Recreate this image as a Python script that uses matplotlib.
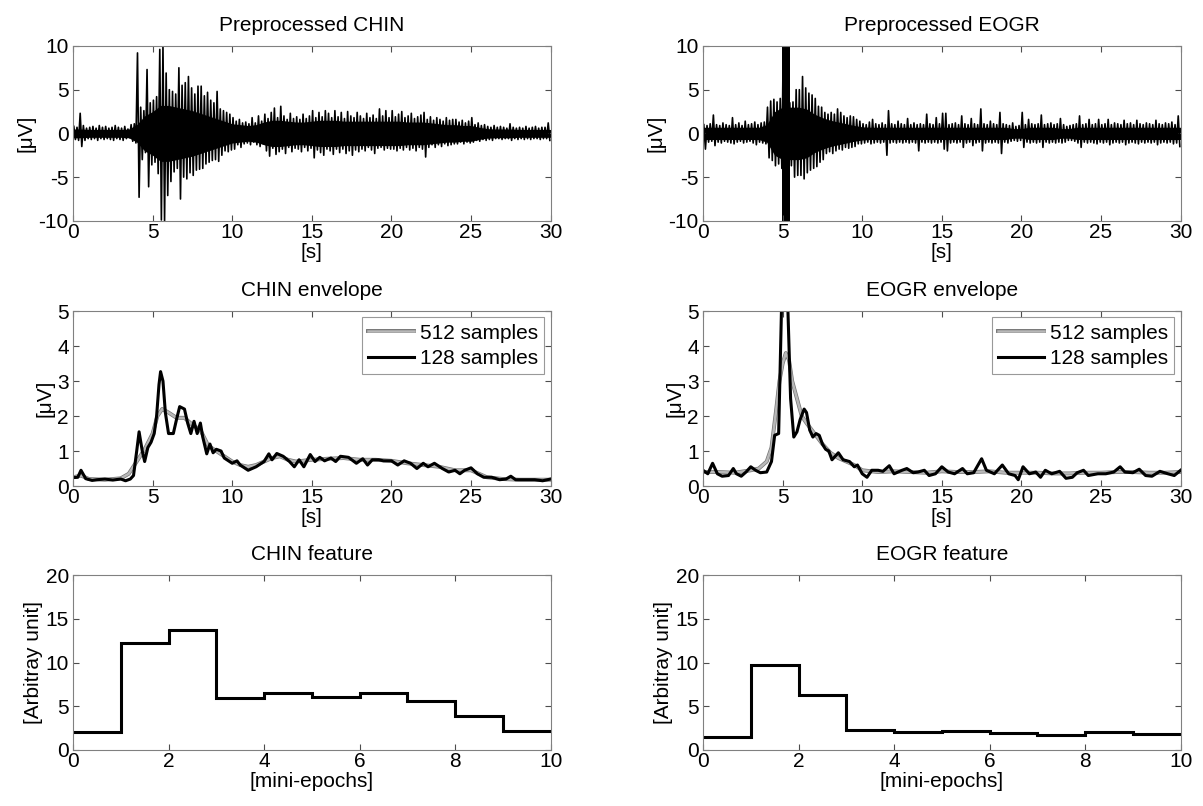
import matplotlib.pyplot as plt
import matplotlib.patheffects as pe
import numpy as np

plt.rcParams['font.family'] = ['Liberation Sans', 'DejaVu Sans']
plt.rcParams['font.size'] = 15
plt.rcParams['axes.unicode_minus'] = False

# raw signals: peak values per 0.2 s bin (upper / lower)
BIN = 0.2
CHIN_HI = [0.8, 0.7, 2.3, 0.9, 0.6, 0.7, 0.8, 0.6, 0.9, 0.7,
           0.8, 0.6, 0.7, 0.9, 0.7, 0.6, 0.8, 0.5, 1.0, 1.1,
           9.2, 3.0, 2.6, 7.3, 3.5, 3.8, 4.2, 9.6, 10.0, 6.9,
           5.0, 4.8, 4.5, 7.5, 5.5, 5.8, 6.5, 5.2, 4.5, 5.4,
           5.4, 4.3, 4.7, 3.8, 3.5, 4.8, 2.8, 2.6, 2.4, 2.2,
           1.8, 1.4, 1.6, 1.2, 1.3, 1.1, 1.8, 1.2, 2.0, 1.4,
           2.2, 1.7, 2.4, 2.9, 1.8, 3.1, 2.0, 1.6, 2.3, 1.7,
           1.9, 1.6, 2.2, 1.7, 2.0, 2.6, 1.8, 2.4, 1.9, 2.6,
           2.3, 1.8, 2.6, 1.9, 2.4, 1.7, 2.5, 2.0, 1.8, 2.4,
           2.0, 1.7, 2.3, 1.8, 2.1, 1.7, 2.8, 2.0, 2.6, 1.8,
           2.6, 1.9, 2.2, 2.5, 1.8, 2.0, 2.3, 1.7, 1.9, 2.1,
           2.4, 1.6, 1.9, 1.5, 1.8, 1.6, 1.4, 1.8, 1.5, 1.6,
           1.6, 1.3, 1.5, 1.2, 1.4, 1.8, 1.0, 1.2, 0.9, 1.0,
           0.8, 0.7, 0.9, 0.7, 0.8, 0.7, 0.6, 1.1, 0.7, 0.6,
           0.7, 0.6, 0.8, 0.6, 0.7, 0.8, 0.6, 0.7, 0.7, 1.2]
CHIN_LO = [-0.7, -0.8, -1.5, -0.8, -0.6, -0.7, -0.6, -0.8, -0.6, -0.7,
           -0.6, -0.7, -0.8, -0.6, -0.7, -0.8, -0.6, -0.5, -0.9, -1.1,
           -7.3, -3.0, -2.2, -6.1, -3.6, -3.3, -4.6, -9.9, -10.0, -7.1,
           -5.5, -4.4, -4.0, -7.5, -5.0, -5.2, -4.5, -4.8, -4.2, -4.1,
           -4.0, -3.5, -3.3, -3.1, -3.0, -3.2, -2.5, -2.0, -2.1, -1.9,
           -1.8, -1.3, -1.6, -1.2, -1.1, -1.3, -1.0, -1.3, -1.5, -1.2,
           -2.0, -2.6, -1.7, -2.4, -2.1, -1.8, -2.3, -1.6, -2.1, -1.7,
           -1.8, -2.1, -1.6, -2.0, -1.7, -2.8, -1.9, -2.2, -2.5, -1.8,
           -2.0, -2.4, -1.8, -2.2, -1.8, -2.3, -2.0, -2.5, -1.9, -2.1,
           -1.8, -2.0, -1.6, -1.9, -2.3, -1.7, -1.6, -1.9, -1.7, -1.8,
           -1.8, -2.0, -1.7, -1.9, -1.6, -1.9, -1.7, -2.0, -1.6, -1.8,
           -2.7, -1.6, -1.3, -1.6, -1.3, -1.5, -1.2, -1.4, -1.3, -1.2,
           -1.2, -1.0, -1.2, -1.0, -1.1, -1.0, -0.8, -0.9, -0.7, -0.8,
           -0.7, -0.8, -0.6, -0.6, -0.7, -0.6, -0.6, -0.8, -0.6, -0.7,
           -0.6, -0.7, -0.6, -0.7, -0.6, -0.6, -0.7, -0.6, -0.6, -0.8]
EOGR_HI = [1.0, 0.9, 1.1, 2.1, 1.0, 0.9, 1.2, 1.0, 0.9, 1.8,
           1.0, 1.2, 0.9, 1.4, 1.0, 1.1, 1.3, 1.0, 1.2, 1.3,
           3.0, 3.7, 3.9, 3.6, 4.0, 12.0, 12.0, 3.5, 3.6, 5.0,
           5.0, 6.5, 5.2, 4.6, 4.4, 4.0, 3.1, 3.0, 2.4, 2.2,
           2.4, 2.2, 2.8, 2.4, 2.0, 1.8, 2.0, 1.9, 1.6, 1.4,
           1.1, 1.0, 1.3, 1.6, 1.1, 1.0, 1.2, 1.0, 2.6, 1.1,
           1.0, 1.4, 1.1, 1.0, 1.7, 1.0, 1.2, 1.0, 1.1, 1.0,
           2.2, 1.1, 1.0, 1.8, 1.1, 2.3, 2.3, 1.0, 1.1, 1.2,
           1.0, 2.0, 1.1, 1.0, 1.7, 1.1, 1.0, 2.8, 1.1, 1.0,
           1.4, 1.1, 1.0, 2.4, 1.1, 1.0, 0.9, 1.2, 0.8, 0.9,
           2.4, 1.0, 1.6, 1.1, 1.0, 1.1, 2.1, 1.0, 1.1, 1.2,
           1.0, 1.1, 1.7, 1.0, 0.8, 0.9, 1.0, 1.1, 2.0, 1.0,
           1.1, 1.6, 1.0, 1.1, 1.6, 1.0, 1.1, 1.6, 1.0, 1.2,
           1.1, 1.0, 1.5, 1.1, 1.2, 1.0, 1.5, 1.1, 1.0, 1.2,
           1.1, 1.0, 1.5, 1.1, 1.0, 1.2, 1.1, 1.3, 1.0, 2.0]
EOGR_LO = [-1.8, -1.0, -0.9, -1.4, -1.0, -1.1, -0.9, -1.0, -1.1, -1.2,
           -1.0, -0.9, -1.1, -1.0, -0.9, -1.1, -1.3, -1.0, -1.1, -1.2,
           -2.8, -3.1, -3.7, -3.5, -4.0, -12.0, -12.0, -3.7, -5.0, -4.8,
           -4.8, -5.2, -4.5, -4.2, -4.0, -3.8, -3.3, -3.0, -2.3, -2.1,
           -2.3, -2.0, -1.8, -1.9, -1.6, -1.7, -1.6, -1.5, -1.2, -1.2,
           -1.1, -1.0, -1.2, -1.1, -1.0, -1.1, -1.0, -2.5, -1.1, -1.0,
           -1.1, -1.0, -1.1, -1.0, -1.1, -1.0, -1.1, -2.0, -1.0, -1.1,
           -1.0, -1.1, -1.0, -1.1, -1.0, -1.8, -2.0, -1.1, -1.0, -1.1,
           -1.0, -1.6, -1.1, -1.0, -1.4, -1.1, -1.0, -2.0, -1.1, -1.0,
           -1.1, -1.0, -1.1, -2.3, -1.0, -1.1, -0.9, -0.8, -0.9, -0.8,
           -1.6, -1.0, -1.1, -1.0, -1.1, -1.0, -1.6, -1.0, -1.1, -1.0,
           -1.1, -1.0, -1.1, -1.0, -0.8, -0.8, -0.9, -1.1, -1.6, -1.0,
           -1.1, -1.0, -1.1, -1.2, -1.0, -1.1, -1.0, -1.3, -1.1, -1.0,
           -1.1, -1.0, -1.3, -1.1, -1.0, -1.1, -1.2, -1.0, -1.1, -1.0,
           -1.1, -1.0, -1.3, -1.1, -1.0, -1.1, -1.0, -1.2, -1.1, -1.5]

# dense core amplitude of the raw signals, every 0.5 s
CORE_STEP = 0.5
CHIN_CORE = [0.5, 0.5, 0.45, 0.45, 0.45, 0.45, 0.45, 0.5, 1.0, 2.0,
             2.5, 3.2, 3.2, 3.0, 2.8, 2.6, 2.3, 2.0, 1.7, 1.4,
             1.1, 1.0, 0.9, 1.0, 1.3, 1.5, 1.5, 1.4, 1.3, 1.3,
             1.4, 1.5, 1.5, 1.5, 1.4, 1.4, 1.4, 1.4, 1.4, 1.4,
             1.4, 1.4, 1.3, 1.3, 1.3, 1.2, 1.1, 1.0, 1.0, 0.9,
             0.9, 0.7, 0.55, 0.5, 0.5, 0.5, 0.45, 0.45, 0.45, 0.45, 0.45]
EOGR_CORE = [0.7, 0.7, 0.7, 0.7, 0.7, 0.7, 0.7, 0.7, 1.0, 2.5,
             3.0, 3.0, 3.0, 2.8, 2.2, 1.8, 1.5, 1.3, 1.1, 0.9,
             0.75, 0.7, 0.7, 0.7, 0.7, 0.7, 0.7, 0.7, 0.7, 0.7,
             0.7, 0.7, 0.7, 0.7, 0.7, 0.7, 0.7, 0.7, 0.7, 0.55,
             0.55, 0.7, 0.7, 0.7, 0.7, 0.55, 0.55, 0.7, 0.7, 0.7,
             0.7, 0.7, 0.7, 0.7, 0.7, 0.7, 0.7, 0.7, 0.7, 0.7, 0.7]
EOGR_CLIPPED = (4.95, 5.45)

# envelopes (time [s], value [uV])
CHIN_ENV_512 = [(0, 0.25), (0.5, 0.3), (1, 0.2), (2, 0.18), (3, 0.22), (3.5, 0.35), (4, 0.7),
                (4.5, 1.05), (5, 1.5), (5.3, 2.0), (5.6, 2.2), (6, 2.1), (6.5, 1.95), (7, 1.95),
                (7.5, 1.75), (8, 1.6), (8.5, 1.15), (9, 1.0), (9.5, 0.85), (10, 0.7), (10.5, 0.6),
                (11, 0.55), (11.5, 0.6), (12, 0.7), (12.5, 0.8), (13, 0.85), (13.5, 0.75), (14, 0.7),
                (15, 0.75), (16, 0.78), (17, 0.8), (18, 0.75), (19, 0.75), (20, 0.72), (21, 0.65),
                (22, 0.6), (23, 0.55), (24, 0.45), (25, 0.45), (25.5, 0.35), (26, 0.25), (27, 0.2),
                (28, 0.18), (29, 0.18), (30, 0.18)]
CHIN_ENV_128 = [(0, 0.24), (0.3, 0.25), (0.5, 0.45), (0.8, 0.21), (1.2, 0.16), (1.5, 0.18), (2.0, 0.2),
                (2.5, 0.17), (3.0, 0.2), (3.3, 0.15), (3.6, 0.2), (3.8, 0.3), (4.0, 1.0), (4.15, 1.55),
                (4.35, 1.0), (4.5, 0.7), (4.7, 1.1), (4.9, 1.25), (5.1, 1.5), (5.25, 2.0), (5.4, 2.9),
                (5.5, 3.27), (5.65, 3.0), (5.8, 2.1), (6.0, 1.5), (6.3, 1.5), (6.5, 1.9), (6.7, 2.27),
                (7.0, 2.2), (7.2, 1.8), (7.4, 1.5), (7.6, 1.85), (7.8, 1.5), (8.0, 1.8), (8.15, 1.4),
                (8.4, 0.92), (8.6, 1.2), (8.8, 0.95), (9.0, 1.05), (9.3, 1.0), (9.5, 0.8), (10.0, 0.65),
                (10.3, 0.72), (10.5, 0.6), (11.0, 0.45), (11.5, 0.55), (12.0, 0.7), (12.3, 0.92),
                (12.5, 0.75), (12.8, 0.93), (13.2, 0.85), (13.6, 0.7), (13.9, 0.55), (14.2, 0.75),
                (14.5, 0.55), (14.9, 0.9), (15.2, 0.7), (15.5, 0.82), (15.8, 0.72), (16.2, 0.8),
                (16.5, 0.7), (16.8, 0.85), (17.3, 0.82), (17.8, 0.65), (18.2, 0.78), (18.5, 0.6),
                (18.8, 0.75), (19.2, 0.75), (19.5, 0.72), (20.0, 0.72), (20.4, 0.6), (20.8, 0.72),
                (21.2, 0.65), (21.6, 0.5), (22.0, 0.65), (22.3, 0.55), (22.7, 0.65), (23.2, 0.5),
                (23.6, 0.4), (24.0, 0.45), (24.3, 0.35), (24.6, 0.45), (25.0, 0.52), (25.4, 0.35),
                (25.8, 0.25), (26.3, 0.25), (26.8, 0.18), (27.2, 0.2), (27.5, 0.28), (27.8, 0.18),
                (28.3, 0.18), (29.0, 0.18), (29.5, 0.15), (30.0, 0.2)]
EOGR_ENV_512 = [(0, 0.4), (1, 0.4), (2, 0.38), (3, 0.45), (3.5, 0.5), (4, 0.7), (4.3, 1.1), (4.6, 2.2),
                (4.8, 3.0), (5.0, 3.5), (5.2, 3.8), (5.4, 3.6), (5.6, 3.0), (5.9, 2.5), (6.2, 2.0),
                (6.5, 1.8), (7, 1.5), (7.5, 1.2), (8, 0.95), (8.5, 0.8), (9, 0.7), (9.5, 0.6),
                (10, 0.45), (11, 0.4), (12, 0.42), (13, 0.4), (14, 0.38), (15, 0.42), (16, 0.4),
                (17, 0.4), (18, 0.42), (19, 0.38), (20, 0.38), (21, 0.38), (22, 0.36), (23, 0.36),
                (24, 0.38), (25, 0.38), (26, 0.4), (27, 0.4), (28, 0.38), (29, 0.38), (30, 0.4)]
EOGR_ENV_128 = [(0, 0.45), (0.3, 0.35), (0.6, 0.65), (0.9, 0.35), (1.2, 0.28), (1.6, 0.3), (1.9, 0.5),
                (2.1, 0.35), (2.4, 0.28), (2.7, 0.4), (3.0, 0.55), (3.3, 0.45), (3.6, 0.38), (4.0, 0.4),
                (4.3, 0.7), (4.5, 1.45), (4.75, 1.5), (4.95, 5.5), (5.3, 5.5), (5.5, 2.5), (5.7, 1.4),
                (5.9, 1.55), (6.1, 1.9), (6.35, 2.2), (6.5, 2.1), (6.7, 1.6), (6.9, 1.4), (7.1, 1.5),
                (7.3, 1.45), (7.5, 1.2), (7.7, 1.05), (7.9, 1.0), (8.1, 0.75), (8.3, 0.85), (8.5, 0.95),
                (8.8, 0.75), (9.2, 0.7), (9.5, 0.55), (9.7, 0.6), (10.0, 0.35), (10.3, 0.25),
                (10.6, 0.45), (11.0, 0.45), (11.3, 0.42), (11.7, 0.58), (12.0, 0.35), (12.5, 0.45),
                (12.8, 0.5), (13.2, 0.38), (13.5, 0.4), (13.9, 0.45), (14.2, 0.3), (14.6, 0.35),
                (15.0, 0.55), (15.4, 0.4), (15.8, 0.35), (16.3, 0.5), (16.6, 0.35), (17.0, 0.38),
                (17.5, 0.78), (17.8, 0.45), (18.3, 0.35), (18.8, 0.6), (19.2, 0.35), (19.6, 0.3),
                (19.8, 0.18), (20.1, 0.55), (20.5, 0.35), (20.9, 0.4), (21.2, 0.25), (21.5, 0.45),
                (21.9, 0.35), (22.4, 0.42), (22.8, 0.22), (23.2, 0.25), (23.5, 0.38), (23.9, 0.45),
                (24.2, 0.3), (24.8, 0.35), (25.3, 0.35), (25.8, 0.4), (26.2, 0.55), (26.5, 0.4),
                (27.0, 0.38), (27.4, 0.48), (27.8, 0.3), (28.2, 0.28), (28.7, 0.42), (29.2, 0.35),
                (29.6, 0.3), (30.0, 0.45)]

# features per mini-epoch
CHIN_FEATURE = [2.1, 12.2, 13.7, 6.0, 6.5, 6.1, 6.5, 5.6, 3.9, 2.2]
EOGR_FEATURE = [1.5, 9.7, 6.3, 2.3, 2.0, 2.2, 1.9, 1.7, 2.0, 1.8]

FRAME = '0.5'
LEFT, RIGHT = 0.0607, 0.5844
WIDTH, HEIGHT = 0.397, 0.217
ROWS = [0.726, 0.397, 0.0695]
TITLE_PAD = 11


def style_axes(ax):
    for sp in ax.spines.values():
        sp.set_color(FRAME)
        sp.set_linewidth(0.8)
    ax.tick_params(direction='in', top=True, right=True, length=4, width=0.8,
                   color='0.3', labelsize=15, pad=3)
    ax.tick_params(axis='x', pad=1.5)


def plot_raw(ax, hi, lo, core, title, clipped=None):
    n = len(hi)
    start = np.arange(n) * BIN
    xs = np.column_stack([start + BIN * 0.25, start + BIN * 0.75]).ravel()
    ys = np.column_stack([hi, lo]).ravel()
    tc = np.arange(len(core)) * CORE_STEP
    core = np.array(core)
    ax.fill_between(tc, -core, core, color='k', lw=0)
    if clipped:
        ax.axvspan(clipped[0], clipped[1], color='k', lw=0)
    ax.plot(xs, ys, color='k', lw=1.2)
    ax.set_xlim(0, 30)
    ax.set_ylim(-10, 10)
    ax.set_xticks(range(0, 31, 5))
    ax.set_yticks([-10, -5, 0, 5, 10])
    ax.set_title(title, fontsize=15, pad=TITLE_PAD)
    ax.set_xlabel('[s]', labelpad=1)
    ax.set_ylabel('[μV]', labelpad=2)
    style_axes(ax)


def plot_env(ax, env512, env128, title):
    t1, v1 = zip(*env512)
    t2, v2 = zip(*env128)
    ax.plot(t1, v1, color='0.72', lw=1.8, label='512 samples', solid_joinstyle='round',
            path_effects=[pe.Stroke(linewidth=2.8, foreground='0.45'), pe.Normal()])
    ax.plot(t2, v2, color='k', lw=2.2, label='128 samples', solid_joinstyle='round')
    ax.set_xlim(0, 30)
    ax.set_ylim(0, 5)
    ax.set_xticks(range(0, 31, 5))
    ax.set_yticks(range(0, 6))
    ax.set_title(title, fontsize=15, pad=TITLE_PAD)
    ax.set_xlabel('[s]', labelpad=1)
    ax.set_ylabel('[μV]', labelpad=2)
    leg = ax.legend(loc='upper right', fancybox=False, handlelength=2.2, fontsize=15,
                    borderaxespad=0.3, borderpad=0.3, labelspacing=0.3, handletextpad=0.3)
    leg.get_frame().set_edgecolor(FRAME)
    leg.get_frame().set_linewidth(0.8)
    style_axes(ax)


def plot_feature(ax, values, title):
    ax.stairs(values, np.arange(len(values) + 1), baseline=None, color='k', lw=2.2)
    ax.set_xlim(0, 10)
    ax.set_ylim(0, 20)
    ax.set_xticks(range(0, 11, 2))
    ax.set_yticks(range(0, 21, 5))
    ax.set_title(title, fontsize=15, pad=TITLE_PAD)
    ax.set_xlabel('[mini-epochs]', labelpad=1)
    ax.set_ylabel('[Arbitray unit]', labelpad=2)
    style_axes(ax)


fig = plt.figure(figsize=(12.03, 8.06), dpi=100)
axes = {}
for r, b in enumerate(ROWS):
    for c, l in enumerate([LEFT, RIGHT]):
        axes[r, c] = fig.add_axes([l, b, WIDTH, HEIGHT])

plot_raw(axes[0, 0], CHIN_HI, CHIN_LO, CHIN_CORE, 'Preprocessed CHIN')
plot_raw(axes[0, 1], EOGR_HI, EOGR_LO, EOGR_CORE, 'Preprocessed EOGR', EOGR_CLIPPED)
plot_env(axes[1, 0], CHIN_ENV_512, CHIN_ENV_128, 'CHIN envelope')
plot_env(axes[1, 1], EOGR_ENV_512, EOGR_ENV_128, 'EOGR envelope')
plot_feature(axes[2, 0], CHIN_FEATURE, 'CHIN feature')
plot_feature(axes[2, 1], EOGR_FEATURE, 'EOGR feature')

fig.savefig('out.png', dpi=100)
